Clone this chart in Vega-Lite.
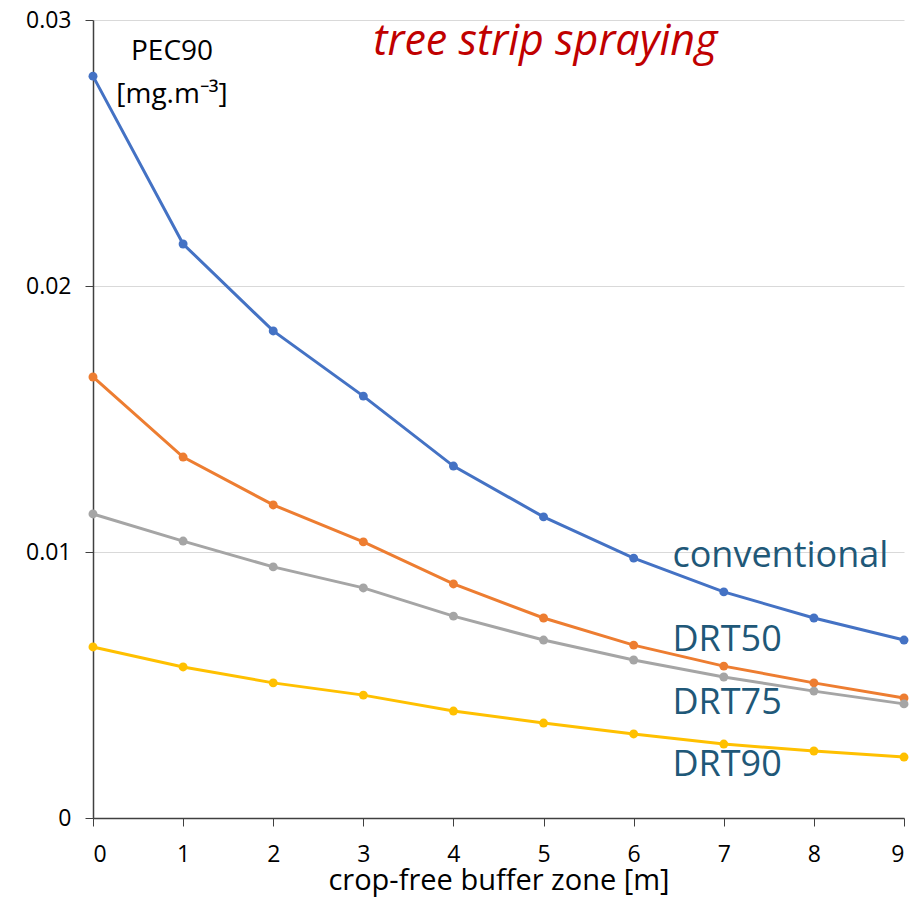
{
  "$schema": "https://vega.github.io/schema/vega-lite/v6.json",
  "width": 811,
  "height": 798,
  "autosize": {"type": "none"},
  "padding": {"left": 93, "top": 20, "right": 12, "bottom": 80},
  "background": "white",
  "config": {"view": {"stroke": null}, "font": "Open Sans"},
  "datasets": {
    "series": [
      {"zone": 0, "pec": 0.02789, "scenario": "conventional"},
      {"zone": 1, "pec": 0.02158, "scenario": "conventional"},
      {"zone": 2, "pec": 0.01831, "scenario": "conventional"},
      {"zone": 3, "pec": 0.01586, "scenario": "conventional"},
      {"zone": 4, "pec": 0.01323, "scenario": "conventional"},
      {"zone": 5, "pec": 0.01132, "scenario": "conventional"},
      {"zone": 6, "pec": 0.00977, "scenario": "conventional"},
      {"zone": 7, "pec": 0.0085, "scenario": "conventional"},
      {"zone": 8, "pec": 0.00752, "scenario": "conventional"},
      {"zone": 9, "pec": 0.00669, "scenario": "conventional"},
      {"zone": 0, "pec": 0.01658, "scenario": "DRT50"},
      {"zone": 1, "pec": 0.01357, "scenario": "DRT50"},
      {"zone": 2, "pec": 0.01177, "scenario": "DRT50"},
      {"zone": 3, "pec": 0.01038, "scenario": "DRT50"},
      {"zone": 4, "pec": 0.0088, "scenario": "DRT50"},
      {"zone": 5, "pec": 0.00752, "scenario": "DRT50"},
      {"zone": 6, "pec": 0.0065, "scenario": "DRT50"},
      {"zone": 7, "pec": 0.00571, "scenario": "DRT50"},
      {"zone": 8, "pec": 0.00508, "scenario": "DRT50"},
      {"zone": 9, "pec": 0.00451, "scenario": "DRT50"},
      {"zone": 0, "pec": 0.01143, "scenario": "DRT75"},
      {"zone": 1, "pec": 0.01041, "scenario": "DRT75"},
      {"zone": 2, "pec": 0.00944, "scenario": "DRT75"},
      {"zone": 3, "pec": 0.00865, "scenario": "DRT75"},
      {"zone": 4, "pec": 0.00759, "scenario": "DRT75"},
      {"zone": 5, "pec": 0.00669, "scenario": "DRT75"},
      {"zone": 6, "pec": 0.00594, "scenario": "DRT75"},
      {"zone": 7, "pec": 0.0053, "scenario": "DRT75"},
      {"zone": 8, "pec": 0.00477, "scenario": "DRT75"},
      {"zone": 9, "pec": 0.00429, "scenario": "DRT75"},
      {"zone": 0, "pec": 0.00643, "scenario": "DRT90"},
      {"zone": 1, "pec": 0.00568, "scenario": "DRT90"},
      {"zone": 2, "pec": 0.00508, "scenario": "DRT90"},
      {"zone": 3, "pec": 0.00462, "scenario": "DRT90"},
      {"zone": 4, "pec": 0.00402, "scenario": "DRT90"},
      {"zone": 5, "pec": 0.00357, "scenario": "DRT90"},
      {"zone": 6, "pec": 0.00316, "scenario": "DRT90"},
      {"zone": 7, "pec": 0.00278, "scenario": "DRT90"},
      {"zone": 8, "pec": 0.00252, "scenario": "DRT90"},
      {"zone": 9, "pec": 0.00229, "scenario": "DRT90"}
    ],
    "labels": [
      {"zone": 6.43, "pec": 0.00985, "text": "conventional"},
      {"zone": 6.43, "pec": 0.00669, "text": "DRT50"},
      {"zone": 6.43, "pec": 0.00432, "text": "DRT75"},
      {"zone": 6.43, "pec": 0.00199, "text": "DRT90"}
    ],
    "unit": [
      {"zone": 0.877, "pec": 0.02880, "text": "PEC90"},
      {"zone": 0.877, "pec": 0.02718, "text": "[mg.m⁻³]"}
    ],
    "title": [
      {"zone": 5.02, "pec": 0.02917, "text": "tree strip spraying"}
    ]
  },
  "encoding": {
    "x": {
      "field": "zone", "type": "quantitative",
      "scale": {"domain": [0, 9], "nice": false, "zero": false},
      "axis": {
        "title": "crop-free buffer zone [m]",
        "titleFontSize": 29, "titleFontWeight": "normal", "titleColor": "black", "titlePadding": 0,
        "values": [0,1,2,3,4,5,6,7,8,9], "format": "d",
        "labelFontSize": 23, "labelColor": "black", "labelPadding": 17,
        "tickSize": 8, "tickColor": "#404040", "domainColor": "#404040", "domainWidth": 1.5,
        "grid": false
      }
    },
    "y": {
      "field": "pec", "type": "quantitative",
      "scale": {"domain": [0, 0.03], "nice": false},
      "axis": {
        "title": null,
        "values": [0, 0.01, 0.02, 0.03],
        "labelExpr": "datum.value == 0 ? '0' : format(datum.value, '.2f')",
        "labelFontSize": 23, "labelColor": "black", "labelPadding": 14,
        "tickSize": 8, "tickColor": "#404040", "domainColor": "#404040", "domainWidth": 1.5,
        "grid": true, "gridColor": "#d9d9d9", "gridWidth": 1
      }
    }
  },
  "layer": [
    {
      "data": {"name": "series"},
      "mark": {"type": "line", "strokeWidth": 3, "point": {"filled": true, "size": 80, "opacity": 1}},
      "encoding": {
        "color": {
          "field": "scenario", "type": "nominal",
          "scale": {"domain": ["conventional", "DRT50", "DRT75", "DRT90"], "range": ["#4472c4", "#ed7d31", "#a5a5a5", "#ffc000"]},
          "legend": null
        }
      }
    },
    {
      "data": {"name": "labels"},
      "mark": {"type": "text", "align": "left", "baseline": "middle", "fontSize": 36, "color": "#1f5878"},
      "encoding": {"text": {"field": "text"}}
    },
    {
      "data": {"name": "unit"},
      "mark": {"type": "text", "align": "center", "baseline": "middle", "fontSize": 28, "color": "black"},
      "encoding": {"text": {"field": "text"}}
    },
    {
      "data": {"name": "title"},
      "mark": {"type": "text", "align": "center", "baseline": "middle", "fontSize": 43, "fontStyle": "italic", "color": "#c00000"},
      "encoding": {"text": {"field": "text"}}
    }
  ]
}
